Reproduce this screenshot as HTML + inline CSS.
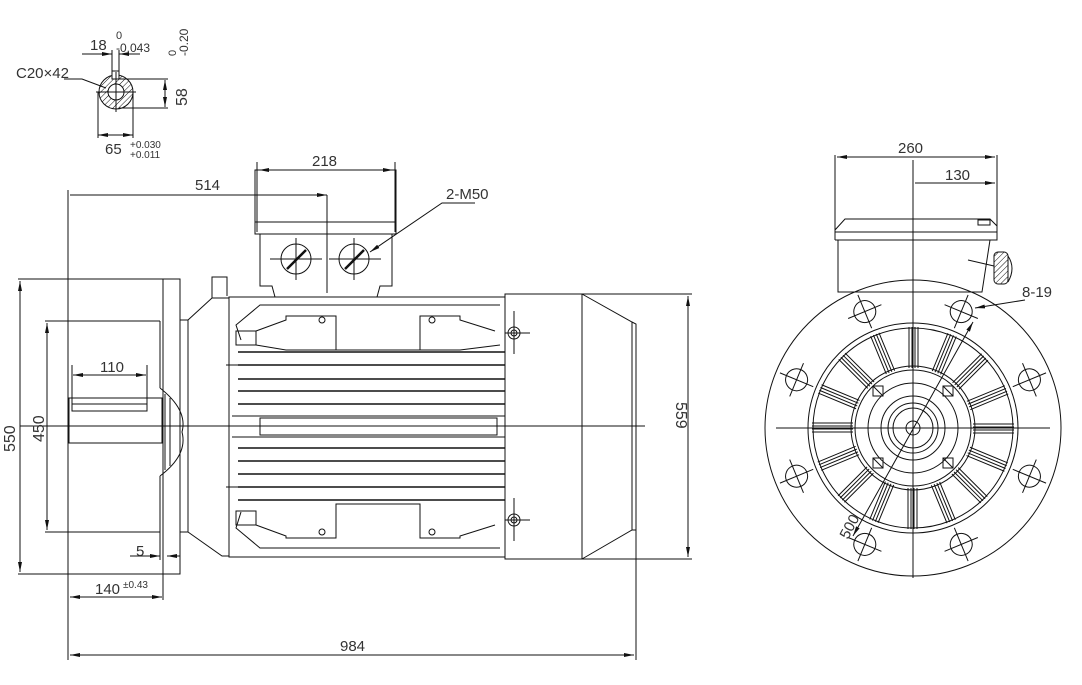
<!DOCTYPE html>
<html><head><meta charset="utf-8"><style>
html,body{margin:0;padding:0;background:#fff}
svg{display:block}
text{font-family:"Liberation Sans",sans-serif;fill:#333}
</style></head><body>
<svg width="1082" height="685" viewBox="0 0 1082 685" xmlns="http://www.w3.org/2000/svg">
<defs>
<marker id="a" viewBox="0 0 10 6" refX="10" refY="3" markerWidth="10" markerHeight="6" orient="auto-start-reverse" markerUnits="userSpaceOnUse"><path d="M0,1 L10,3 L0,5z" fill="#111"/></marker>
<pattern id="h" width="4" height="4" patternUnits="userSpaceOnUse" patternTransform="rotate(45)"><line x1="0" y1="0" x2="0" y2="4" stroke="#111" stroke-width="1"/></pattern>
<g id="hole" stroke="#111" fill="none"><circle cx="913" cy="302" r="11"/><line x1="913" y1="284" x2="913" y2="320"/><line x1="895" y1="302" x2="931" y2="302"/></g>
</defs>
<g stroke="#111" stroke-width="1" fill="none">
<!-- shaft section top-left -->
<circle cx="116" cy="92" r="17" fill="url(#h)"/>
<circle cx="116" cy="92" r="8" fill="#fff"/>
<rect x="112" y="71" width="7" height="8" fill="#fff"/>
<line x1="96" y1="92" x2="136" y2="92"/><line x1="116" y1="72" x2="116" y2="112"/>
<line x1="112" y1="50" x2="112" y2="72"/><line x1="119" y1="50" x2="119" y2="72"/>
<line x1="82" y1="54" x2="112" y2="54" marker-end="url(#a)"/><line x1="140" y1="54" x2="119" y2="54" marker-end="url(#a)"/>
<line x1="119" y1="79" x2="168" y2="79"/><line x1="119" y1="108" x2="168" y2="108"/>
<line x1="165" y1="80" x2="165" y2="107" marker-start="url(#a)" marker-end="url(#a)"/>
<line x1="98" y1="92" x2="98" y2="138"/><line x1="133" y1="92" x2="133" y2="138"/>
<line x1="98" y1="135" x2="133" y2="135" marker-start="url(#a)" marker-end="url(#a)"/>
<polyline points="64,79 82,79 106,88"/>
<!-- side view -->
<line x1="68" y1="190" x2="68" y2="660"/>
<line x1="18" y1="279" x2="180" y2="279"/><line x1="18" y1="574" x2="180" y2="574"/>
<line x1="20" y1="281" x2="20" y2="572" marker-start="url(#a)" marker-end="url(#a)"/>
<line x1="45" y1="321" x2="160" y2="321"/><line x1="45" y1="532" x2="160" y2="532"/>
<line x1="47" y1="323" x2="47" y2="530" marker-start="url(#a)" marker-end="url(#a)"/>
<rect x="163" y="279" width="17" height="295"/>
<line x1="160" y1="321" x2="160" y2="388"/><line x1="160" y1="476" x2="160" y2="532"/>
<path d="M160,388 Q188,410 182,432 Q188,455 160,476"/>
<line x1="165" y1="394" x2="165" y2="470"/><line x1="170" y1="398" x2="170" y2="466"/>
<rect x="69" y="398" width="93" height="45"/>
<rect x="72" y="404" width="75" height="7"/>
<line x1="72" y1="365" x2="72" y2="404"/><line x1="147" y1="365" x2="147" y2="404"/>
<line x1="73" y1="375" x2="146" y2="375" marker-start="url(#a)" marker-end="url(#a)"/>
<line x1="130" y1="556" x2="160" y2="556" marker-end="url(#a)"/><line x1="180" y1="556" x2="167" y2="556" marker-end="url(#a)"/>
<line x1="160" y1="532" x2="160" y2="560"/>
<line x1="70" y1="597" x2="162" y2="597" marker-start="url(#a)" marker-end="url(#a)"/>
<line x1="163" y1="574" x2="163" y2="600"/>
<rect x="180" y="320" width="8" height="212"/>
<polyline points="188,320 212,298 229,298"/><polyline points="188,532 222,556 229,556"/>
<polyline points="212,298 212,277 227,277 227,296"/>
<!-- body -->
<rect x="229" y="297" width="276" height="260"/>
<g stroke-width="1.4">
<line x1="238" y1="352" x2="505" y2="352"/><line x1="238" y1="365" x2="505" y2="365"/>
<line x1="238" y1="379" x2="505" y2="379"/><line x1="238" y1="391" x2="505" y2="391"/>
<line x1="238" y1="404" x2="505" y2="404"/>
<line x1="238" y1="448" x2="505" y2="448"/><line x1="238" y1="461" x2="505" y2="461"/>
<line x1="238" y1="474" x2="505" y2="474"/><line x1="238" y1="487" x2="505" y2="487"/>
<line x1="238" y1="500" x2="505" y2="500"/>
</g>
<line x1="226" y1="365" x2="238" y2="365"/><line x1="226" y1="487" x2="238" y2="487"/>
<polyline points="232,416 505,416"/><polyline points="232,437 505,437"/>
<rect x="260" y="418" width="237" height="17"/>
<polyline points="241,340 236,325 260,305 500,305"/>
<rect x="236" y="331" width="20" height="14"/>
<polyline points="256,331 286,320 286,316 336,316 336,350 420,350 420,316 460,316 460,320 495,331"/>
<polyline points="256,345 286,350 336,350"/><polyline points="420,350 460,350 500,345"/>
<circle cx="322" cy="320" r="3"/><circle cx="432" cy="320" r="3"/>
<polyline points="241,512 236,528 260,548 500,548"/>
<rect x="236" y="511" width="20" height="14"/>
<polyline points="256,525 286,536 286,538 336,538 336,504 420,504 420,538 460,538 460,536 495,525"/>
<circle cx="322" cy="532" r="3"/><circle cx="432" cy="532" r="3"/>
<circle cx="514" cy="333" r="6"/><circle cx="514" cy="333" r="3"/>
<line x1="505" y1="333" x2="530" y2="333"/><line x1="514" y1="311" x2="514" y2="354"/>
<circle cx="514" cy="520" r="6"/><circle cx="514" cy="520" r="3"/>
<line x1="505" y1="520" x2="530" y2="520"/><line x1="514" y1="498" x2="514" y2="541"/>
<!-- terminal box -->
<rect x="255" y="170" width="141" height="64"/>
<line x1="255" y1="222" x2="396" y2="222"/>
<polyline points="260,234 260,286 272,286 275,297"/>
<polyline points="392,234 392,286 380,286 377,297"/>
<circle cx="296" cy="259" r="15"/><circle cx="354" cy="259" r="15"/>
<line x1="270" y1="259" x2="322" y2="259"/><line x1="296" y1="238" x2="296" y2="280"/>
<line x1="329" y1="259" x2="381" y2="259"/><line x1="354" y1="238" x2="354" y2="280"/>
<line x1="287" y1="269" x2="306" y2="250" stroke-width="2.5"/><line x1="345" y1="269" x2="364" y2="250" stroke-width="2.5"/>
<line x1="327" y1="195" x2="327" y2="293"/>
<line x1="257" y1="162" x2="257" y2="232"/><line x1="395" y1="162" x2="395" y2="232"/>
<line x1="259" y1="170" x2="393" y2="170" marker-start="url(#a)" marker-end="url(#a)"/>
<line x1="70" y1="195" x2="327" y2="195" marker-end="url(#a)"/>
<polyline points="475,203 442,203 370,252" marker-end="url(#a)"/>
<!-- fan cover -->
<rect x="505" y="294" width="77" height="265"/>
<polyline points="582,294 632,322 636,324 636,530 632,530 582,559"/>
<line x1="632" y1="322" x2="632" y2="530"/>
<line x1="636" y1="530" x2="636" y2="660"/>
<line x1="582" y1="294" x2="692" y2="294"/><line x1="582" y1="559" x2="692" y2="559"/>
<line x1="688" y1="296" x2="688" y2="557" marker-start="url(#a)" marker-end="url(#a)"/>
<line x1="70" y1="655" x2="634" y2="655" marker-start="url(#a)" marker-end="url(#a)"/>
<line x1="20" y1="426" x2="645" y2="426"/>
<!-- end view -->
<line x1="913" y1="160" x2="913" y2="578"/><line x1="776" y1="428" x2="1050" y2="428"/>
<line x1="835" y1="155" x2="835" y2="236"/><line x1="997" y1="155" x2="997" y2="236"/>
<line x1="837" y1="157" x2="995" y2="157" marker-start="url(#a)" marker-end="url(#a)"/>
<line x1="915" y1="183" x2="995" y2="183" marker-end="url(#a)"/>
<polyline points="835,240 835,230 845,219 990,219 997,226 997,240 835,240"/>
<line x1="835" y1="232" x2="997" y2="232"/>
<rect x="978" y="220" width="12" height="5"/>
<polyline points="838,240 838,292 982,292 990,240"/>
<rect x="994" y="252" width="14" height="32" rx="4" fill="url(#h)"/>
<path d="M1008,256 q8,12 0,26"/>
<line x1="968" y1="260" x2="994" y2="266"/>
<circle cx="913" cy="428" r="148"/>
<circle cx="913" cy="428" r="105"/><circle cx="913" cy="428" r="100"/>
<circle cx="913" cy="428" r="62"/><circle cx="913" cy="428" r="58"/>
<circle cx="913" cy="428" r="45"/><circle cx="913" cy="428" r="32"/>
<circle cx="913" cy="428" r="25"/><circle cx="913" cy="428" r="20"/>
<circle cx="913" cy="428" r="7"/>
<g>
<g id="fin"><line x1="909" y1="327" x2="909" y2="368"/><line x1="912" y1="327" x2="912" y2="368"/><line x1="915" y1="327" x2="915" y2="368"/><line x1="918" y1="327" x2="918" y2="368"/></g>
<use href="#fin" transform="rotate(22.5 913 428)"/><use href="#fin" transform="rotate(45 913 428)"/>
<use href="#fin" transform="rotate(67.5 913 428)"/><use href="#fin" transform="rotate(90 913 428)"/>
<use href="#fin" transform="rotate(112.5 913 428)"/><use href="#fin" transform="rotate(135 913 428)"/>
<use href="#fin" transform="rotate(157.5 913 428)"/><use href="#fin" transform="rotate(180 913 428)"/>
<use href="#fin" transform="rotate(202.5 913 428)"/><use href="#fin" transform="rotate(225 913 428)"/>
<use href="#fin" transform="rotate(247.5 913 428)"/><use href="#fin" transform="rotate(270 913 428)"/>
<use href="#fin" transform="rotate(292.5 913 428)"/><use href="#fin" transform="rotate(315 913 428)"/>
<use href="#fin" transform="rotate(337.5 913 428)"/>
</g>
<use href="#hole" transform="rotate(22.5 913 428)"/><use href="#hole" transform="rotate(67.5 913 428)"/>
<use href="#hole" transform="rotate(112.5 913 428)"/><use href="#hole" transform="rotate(157.5 913 428)"/>
<use href="#hole" transform="rotate(202.5 913 428)"/><use href="#hole" transform="rotate(247.5 913 428)"/>
<use href="#hole" transform="rotate(292.5 913 428)"/><use href="#hole" transform="rotate(337.5 913 428)"/>
<rect x="873" y="386" width="10" height="10"/><rect x="943" y="386" width="10" height="10"/>
<rect x="873" y="458" width="10" height="10"/><rect x="943" y="458" width="10" height="10"/>
<line x1="873" y1="386" x2="883" y2="396"/><line x1="943" y1="386" x2="953" y2="396"/>
<line x1="873" y1="458" x2="883" y2="468"/><line x1="943" y1="458" x2="953" y2="468"/>
<line x1="1025" y1="300" x2="975" y2="308" marker-end="url(#a)"/>
<line x1="853" y1="536" x2="973" y2="322" marker-start="url(#a)" marker-end="url(#a)"/>
</g>
<g font-size="15">
<text x="90" y="50">18</text>
<text x="116" y="39" font-size="11">0</text><text x="116" y="52" font-size="12">-0.043</text>
<text x="16" y="78">C20×42</text>
<text x="176" y="56" font-size="11" transform="rotate(-90 176 56)">0</text>
<text x="188" y="56" font-size="12" transform="rotate(-90 188 56)">-0.20</text>
<text x="187" y="106" transform="rotate(-90 187 106)" font-size="16">58</text>
<text x="105" y="154">65</text>
<text x="130" y="148" font-size="10">+0.030</text><text x="130" y="158" font-size="10">+0.011</text>
<text x="195" y="190">514</text>
<text x="312" y="166">218</text>
<text x="446" y="199">2-M50</text>
<text x="15" y="452" transform="rotate(-90 15 452)" font-size="16">550</text>
<text x="44" y="442" transform="rotate(-90 44 442)" font-size="16">450</text>
<text x="100" y="372">110</text>
<text x="136" y="556">5</text>
<text x="95" y="594">140</text><text x="123" y="588" font-size="10">±0.43</text>
<text x="676" y="402" transform="rotate(90 676 402)" font-size="16">559</text>
<text x="340" y="651">984</text>
<text x="898" y="153">260</text>
<text x="945" y="180">130</text>
<text x="1022" y="297">8-19</text>
<text x="848" y="540" transform="rotate(-62 848 540)">500</text>
</g>
</svg>
</body></html>
